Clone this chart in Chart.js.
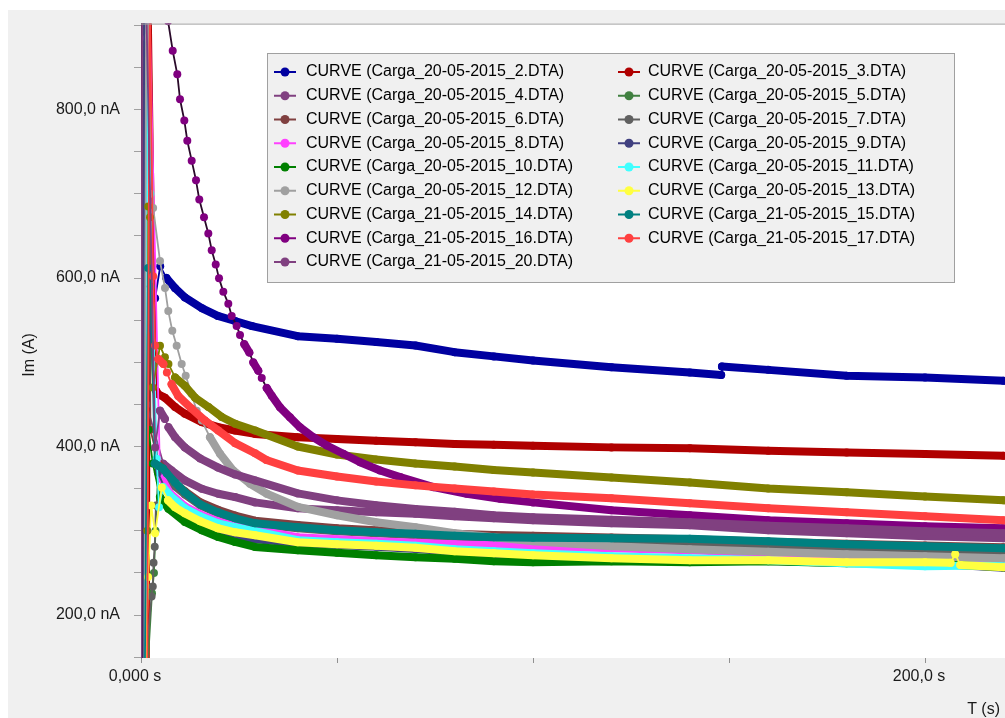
<!DOCTYPE html>
<html>
<head>
<meta charset="utf-8">
<title>Im (A) vs T (s)</title>
<script src="https://cdn.jsdelivr.net/npm/chart.js@4.4.1/dist/chart.umd.min.js"></script>
<style>
  html, body { margin: 0; padding: 0; background: #ffffff; overflow: hidden; }
  canvas { display: block; }
</style>
</head>
<body>
<canvas id="chart" width="1005" height="718"></canvas>
<script>
// Sampling times shared by all curves once the start-up transient has passed (s)
const tailTimes = [40, 50, 60, 70, 80, 90, 100, 120, 140, 160, 180, 200, 220];

// Each curve: times (s) and currents (nA)
const t02 = [0.4, 0.8, 3.6, 4.9, 6.5, 8.7, 11.2, 15.6, 19.6, 24.0, 28.3, 40, 50, 60, 70, 80, 90, 100, 120, 140, 148.0, 148.2, 160, 180, 200, 220];
const v02 = [130, 940, 576, 614, 600, 588, 577, 564, 555, 549, 543, 531, 528, 524, 520, 512, 507, 502, 494, 488, 485, 495, 491, 484, 482, 478];

const t03 = [2.0, 2.4, 3.9, 4.4, 6.1, 8.7, 11.2, 15.5, 19.7, 24, 29.1, ...tailTimes];
const v03 = [120, 950, 466, 462, 458, 447, 439, 429, 423, 419, 415, 411, 409, 407, 405, 403, 402, 401, 399, 398, 395, 393, 391, 389];

const t04 = [0.2, 0.5, 1.4, 5.7, 7.8, 11.2, 15.5, 19.7, 24, 29.1, ...tailTimes];
const v04 = [130, 950, 450, 379.5, 371.6, 359.8, 349.9, 344.0, 340.0, 333.7, 326.6, 324.3, 321.9, 320.1, 317.2, 314.8, 312.4, 308.9, 306.5, 300.6, 297.0, 293.5, 291.1];

const t05 = [1.7, 2.8, 3.3, 3.7, 4.4, 6.1, 8.7, 11.2, 15.1, 19.6, 24, 29.1, ...tailTimes];
const v05 = [140, 226, 250, 300, 370, 364.5, 355.0, 344.4, 332.6, 323.1, 316.0, 310.1, 305.3, 301.8, 299.4, 297.0, 294.7, 293.5, 292.3, 289.9, 287.6, 285.2, 282.8, 280.5, 278.1];

const t06 = [0.4, 0.7, 1.9, 2.4, 4.5, 8.7, 11.2, 15.1, 19.6, 24, 29.1, ...tailTimes];
const v06 = [120, 960, 960, 420, 380, 356, 347, 334, 325, 318, 312, 307, 303, 300.5, 298.5, 296.5, 295, 294, 292, 290, 287, 284.5, 282.5, 280.5];

const t07 = [0.6, 0.9, 2.7, 3.0, 3.2, 3.5, 3.8, 6.1, 8.7, 11.2, 15.1, 19.6, 24, 29.1, ...tailTimes];
const v07 = [960, 130, 222, 234, 262, 281, 330, 362.1, 352.7, 343.2, 330.2, 320.7, 313.6, 307.7, 303.0, 299.4, 297.0, 294.7, 292.9, 291.1, 289.9, 287.6, 285.2, 282.8, 280.5, 278.1, 275.8];

const t08 = [1.1, 1.53, 2.0, 4.85, 7.4, 11.2, 15.1, 19.6, 24, 29.1, ...tailTimes];
const v08 = [130, 885, 950, 365.7, 344.4, 329.0, 319.5, 311.3, 305.3, 301.5, 292.3, 289.9, 287.6, 285.8, 284.0, 282.8, 281.7, 279.3, 276.9, 273.4, 271.0, 268.7, 265.1];

const t09 = [0.5, 0.8, 1.2, 1.45, 1.8, 2.4, 4.3, 7.4, 11.2, 15.1, 19.6, 24, 29.1, ...tailTimes];
const v09 = [130, 950, 611, 867, 793, 540, 369.2, 336.1, 319.5, 306.5, 298.2, 293.5, 290.0, 285.5, 283.0, 281.0, 278.5, 275.0, 272.5, 270.0, 266.5, 264.0, 264.0, 261.8, 261.5, 256.0];

const t10 = [1.4, 1.9, 3.0, 4.85, 7.0, 11.2, 15.5, 19.7, 24, 29.1, ...tailTimes];
const v10 = [140, 420, 380, 340.0, 326.3, 310.4, 300.6, 292.7, 286.8, 280.8, 276.9, 273.9, 271.0, 268.7, 266.9, 263.9, 262.7, 263.9, 262.7, 263.9, 261.6, 261.6, 256.8];

const t11 = [1.3, 1.6, 2.4, 4.0, 4.6, 5.6, 7.4, 11.2, 15.1, 19.6, 24, 29.1, ...tailTimes];
const v11 = [130, 950, 700, 385.5, 328, 352, 342.0, 326.6, 317.2, 308.9, 304.2, 299.4, 288.8, 286.4, 284.6, 282.3, 278.1, 275.8, 273.4, 269.8, 267.5, 265.1, 261.6, 258.0, 259.2];

const t12 = [0.9, 1.3, 3.1, 4.85, 6.12, 6.96, 7.98, 9.1, 10.38, 11.4, 12.9, 14.2, 15.5, 17.6, 20.15, 23.5, 27.8, 32.1, ...tailTimes];
const v12 = [130, 950, 683.2, 620.1, 588.2, 561, 537.3, 519.5, 497.9, 484, 462.7, 442.6, 430.8, 411, 391.4, 371.6, 355.9, 344, 328.4, 318.4, 310.1, 304.2, 297.0, 292.3, 287.6, 281.7, 278.1, 275.2, 272.2, 269.8, 267.5];

const t13 = [1.2, 1.8, 2.6, 3.6, 5.3, 6.9, 8.7, 11.2, 15.1, 19.6, 24, 29.1, 40, 50, 60, 70, 80, 90, 100, 120, 140, 160, 180, 200, 206.5, 207.7, 209, 220];
const v13 = [130, 245, 330, 297, 351.5, 336.1, 327.8, 320.7, 311.3, 303.0, 298.2, 294.7, 286.4, 284.0, 282.3, 279.9, 275.8, 273.4, 271.1, 267.5, 265.1, 265.1, 262.7, 262.7, 262.0, 272.2, 259.5, 256.8];

const t14 = [1.6, 1.85, 2.3, 3.0, 4.85, 6.1, 7.0, 8.7, 11.2, 13.8, 17.2, 20.6, 24, 29.1, ...tailTimes];
const v14 = [300, 685, 672, 470, 519.5, 506, 498, 482, 472, 458, 447, 435, 427, 419, 400.0, 390.5, 384.6, 379.9, 376.3, 372.2, 369.2, 363.3, 357.4, 350.3, 345.6, 340.8, 336.1];

const t15 = [1.0, 1.8, 2.5, 3.5, 4.3, 5.6, 6.6, 8.7, 11.2, 15.1, 19.6, 24, 29.1, ...tailTimes];
const v15 = [140, 612, 590, 380, 377.5, 374.0, 368.1, 357.4, 345.6, 331.4, 321.9, 314.8, 308.9, 304.2, 300.6, 298.2, 296.5, 294.1, 292.3, 291.7, 291.1, 290.5, 287.6, 284.0, 281.7, 279.3];

const t16 = [0.0, 0.2, 6.9, 8.09, 9.26, 9.95, 11.05, 11.81, 12.93, 14.03, 14.87, 16.07, 17.17, 18.04, 19.06, 19.9, 21.0, 22.27, 23.14, 24.4, 25.26, 26.35, 27.63, 28.65, 29.92, 30.8, 32.07, 33.34, 35.46, 38.0, 40.56, 43.95, 47.4, 51.6, 55.9, 61.0, 66.1, 74.6, 83.1, 91.6, 100, 120, 140, 160, 180, 200, 220];
const v16 = [120, 960, 905, 869.8, 841.8, 812.2, 787, 763, 739.3, 716, 693.1, 672.2, 652.9, 633.1, 616.2, 599.6, 583.8, 569.6, 555, 543.2, 532.5, 521.5, 511.6, 499.8, 490, 481.3, 469.5, 460.4, 446.5, 434.7, 422.8, 411, 401.2, 391.4, 381.4, 371.6, 363.7, 351.8, 344, 338.1, 333.7, 324.3, 318.4, 312.4, 308.9, 305.3, 303.0];

const t17 = [1.6, 2.2, 3.1, 3.6, 4.4, 5.7, 6.6, 7.8, 9.5, 12.9, 16.3, 19.7, 24, 29.1, 32, ...tailTimes];
const v17 = [140, 950, 602, 520, 504, 498, 488, 474, 460, 445, 431, 419, 404, 392, 384, 371.6, 364.5, 358.6, 353.9, 350.3, 346.7, 343.2, 338.5, 332.6, 326.7, 321.9, 317.2, 312.4];

const t20 = [0.1, 0.3, 1.2, 3.6, 4.85, 6.1, 7.0, 8.7, 11.2, 15.1, 19.6, 24, 29.1, ...tailTimes];
const v20 = [120, 960, 960, 399, 442.6, 432.8, 422.9, 411.0, 398.8, 385.8, 375.2, 366.9, 359.8, 344.4, 336.1, 330.2, 326.0, 322.5, 318.4, 316.0, 313.0, 310.1, 305.9, 303.0, 299.4, 297.0];

const curveNames = [
  'CURVE (Carga_20-05-2015_2.DTA)',  'CURVE (Carga_20-05-2015_3.DTA)',
  'CURVE (Carga_20-05-2015_4.DTA)',  'CURVE (Carga_20-05-2015_5.DTA)',
  'CURVE (Carga_20-05-2015_6.DTA)',  'CURVE (Carga_20-05-2015_7.DTA)',
  'CURVE (Carga_20-05-2015_8.DTA)',  'CURVE (Carga_20-05-2015_9.DTA)',
  'CURVE (Carga_20-05-2015_10.DTA)', 'CURVE (Carga_20-05-2015_11.DTA)',
  'CURVE (Carga_20-05-2015_12.DTA)', 'CURVE (Carga_20-05-2015_13.DTA)',
  'CURVE (Carga_21-05-2015_14.DTA)', 'CURVE (Carga_21-05-2015_15.DTA)',
  'CURVE (Carga_21-05-2015_16.DTA)', 'CURVE (Carga_21-05-2015_17.DTA)',
  'CURVE (Carga_21-05-2015_20.DTA)'
];
const curveTimes  = [t02, t03, t04, t05, t06, t07, t08, t09, t10, t11, t12, t13, t14, t15, t16, t17, t20];
const curveValues = [v02, v03, v04, v05, v06, v07, v08, v09, v10, v11, v12, v13, v14, v15, v16, v17, v20];

const curveColors = [
  '#0000a0', '#b00000', '#804080', '#408040', '#804040', '#606060',
  '#ff40ff', '#404080', '#008000', '#40ffff', '#a0a0a0', '#ffff40',
  '#808000', '#008080', '#800080', '#ff4040', '#804080'
];
// colour of the thin connector drawn between widely spaced samples
const linkColors = curveColors.map((c, i) => (i === 14 ? '#2a0a2a' : c));

const yTickValues = [150, 200, 250, 300, 350, 400, 450, 500, 550, 600, 650, 700, 750, 800, 850, 900];
const yTickLabels = ['', '200,0 nA', '', '', '', '400,0 nA', '', '', '', '600,0 nA', '', '', '', '800,0 nA', '', ''];
const xTickValues = [0, 50, 100, 150, 200];
const xTickLabels = ['0,000 s', '', '', '', '200,0 s'];
const yAxisTitle = 'Im (A)';
const xAxisTitle = 'T (s)';

const FONT = '"Liberation Sans", Arial, sans-serif';
Chart.defaults.font.family = FONT;
Chart.defaults.font.size = 16;
Chart.defaults.color = '#1a1a1a';

// steep stretches are drawn as a thin connector, flat stretches as a dense band of markers
const isSteep = (ctx) => Math.abs(ctx.p1.y - ctx.p0.y) > 1.8 * Math.abs(ctx.p1.x - ctx.p0.x);

const datasets = curveNames.map((name, i) => ({
  label: name,
  data: curveTimes[i].map((t, k) => ({ x: t, y: curveValues[i][k] })),
  borderColor: curveColors[i],
  backgroundColor: curveColors[i],
  pointBackgroundColor: curveColors[i],
  pointBorderWidth: 0,
  pointRadius: 4,
  pointHoverRadius: 4,
  borderWidth: 8,
  borderCapStyle: 'round',
  borderJoinStyle: 'round',
  tension: 0,
  clip: 0,
  order: -i,
  segment: {
    borderWidth: (ctx) => (isSteep(ctx) ? 1.8 : 8),
    borderColor: (ctx) => (isSteep(ctx) ? linkColors[i] : curveColors[i])
  }
}));

const backdrop = {
  id: 'backdrop',
  beforeDraw(chart) {
    const { ctx, width, height, chartArea: a } = chart;
    ctx.save();
    ctx.fillStyle = '#ffffff';
    ctx.fillRect(0, 0, width, height);
    ctx.fillStyle = '#f0f0f0';
    ctx.fillRect(8, 10, width - 8, height - 10);
    ctx.fillStyle = '#ffffff';
    ctx.fillRect(a.left, a.top, a.right - a.left, a.bottom - a.top);
    ctx.restore();
  },
  afterDatasetsDraw(chart) {
    const { ctx, chartArea: a } = chart;
    ctx.save();
    ctx.strokeStyle = '#a0a0a0';
    ctx.lineWidth = 1;
    ctx.beginPath();
    ctx.moveTo(a.left, a.top + 0.5);
    ctx.lineTo(a.right, a.top + 0.5);
    ctx.stroke();
    ctx.fillStyle = '#1a1a1a';
    ctx.font = '16px ' + FONT;
    // horizontal axis title at the lower right corner
    ctx.textAlign = 'right';
    ctx.textBaseline = 'middle';
    ctx.fillText(xAxisTitle, 1000, 710);
    // vertical axis title, centred a little below the middle of the plot
    ctx.textAlign = 'center';
    ctx.translate(30, 355);
    ctx.rotate(-Math.PI / 2);
    ctx.fillText(yAxisTitle, 0, 0);
    ctx.restore();
  }
};

// two-column legend panel inside the plot
const legendPanel = {
  id: 'legendPanel',
  afterDraw(chart) {
    const { ctx } = chart;
    ctx.save();
    ctx.fillStyle = '#f0f0f0';
    ctx.fillRect(267, 53, 687, 229);
    ctx.strokeStyle = '#a0a0a0';
    ctx.lineWidth = 1;
    ctx.strokeRect(267.5, 53.5, 687, 229);
    ctx.font = '16px ' + FONT;
    ctx.textBaseline = 'middle';
    ctx.textAlign = 'left';
    chart.data.datasets.forEach((ds, i) => {
      const col = i % 2;
      const row = Math.floor(i / 2);
      const cx = col ? 629 : 285;
      const tx = col ? 648 : 306;
      const y = 72 + row * 23.75;
      ctx.strokeStyle = ds.borderColor;
      ctx.lineWidth = 2;
      ctx.beginPath();
      ctx.moveTo(cx - 11, y);
      ctx.lineTo(cx + 11, y);
      ctx.stroke();
      ctx.fillStyle = ds.borderColor;
      ctx.beginPath();
      ctx.arc(cx, y, 4.5, 0, Math.PI * 2);
      ctx.fill();
      ctx.fillStyle = '#000000';
      ctx.fillText(ds.label, tx, y);
    });
    ctx.restore();
  }
};

new Chart(document.getElementById('chart'), {
  type: 'line',
  data: { datasets },
  options: {
    responsive: false,
    animation: false,
    events: [],
    devicePixelRatio: 1,
    layout: { autoPadding: false, padding: { top: 22, right: 0, bottom: 0, left: 0 } },
    plugins: { legend: { display: false }, tooltip: { enabled: false } },
    scales: {
      x: {
        type: 'linear',
        min: 0,
        max: 220.4,
        afterBuildTicks: (axis) => { axis.ticks = xTickValues.map((v) => ({ value: v })); },
        afterFit: (axis) => { axis.height = 60; },
        ticks: {
          autoSkip: false,
          maxRotation: 0,
          padding: 4,
          labelOffset: -6,
          color: '#1a1a1a',
          callback: (v, i) => xTickLabels[i]
        },
        grid: { drawOnChartArea: false, tickLength: 5, color: '#909090' },
        border: { display: false },
        title: { display: false }
      },
      y: {
        type: 'linear',
        min: 149,
        max: 902,
        afterBuildTicks: (axis) => { axis.ticks = yTickValues.map((v) => ({ value: v })); },
        afterFit: (axis) => { axis.width = 141; },
        ticks: {
          autoSkip: false,
          padding: 14,
          color: '#1a1a1a',
          callback: (v, i) => yTickLabels[i]
        },
        grid: { drawOnChartArea: false, tickLength: 7, color: '#a0a0a0' },
        border: { display: true, color: '#808080' },
        title: { display: false }
      }
    }
  },
  plugins: [backdrop, legendPanel]
});
</script>
</body>
</html>
